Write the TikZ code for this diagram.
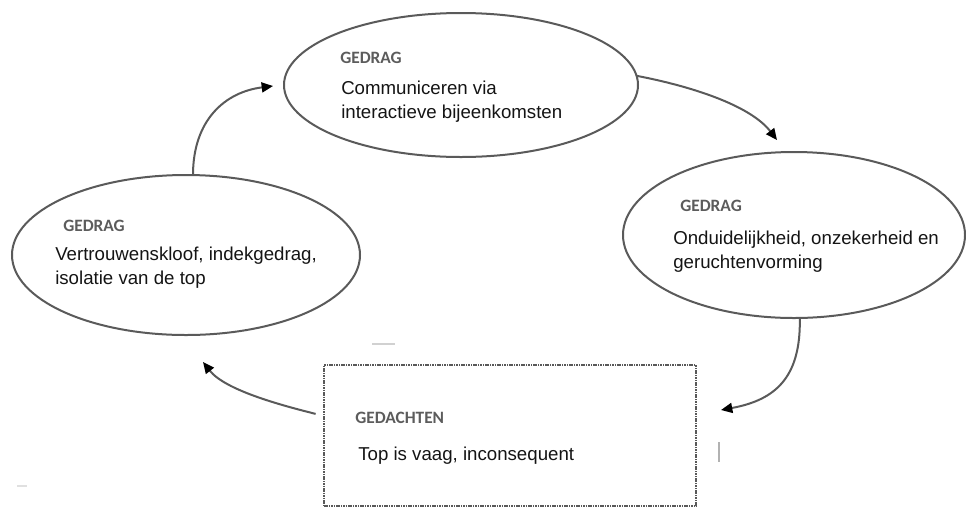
\documentclass[tikz,border=0pt]{standalone}
\usepackage{fontspec}
\setmainfont{Liberation Sans}
\newfontfamily\headfont{Carlito}
\usetikzlibrary{arrows.meta,shapes.geometric}

\definecolor{outline}{HTML}{5A5A5A}
\definecolor{headgray}{HTML}{5C5C5C}
\definecolor{bodyink}{HTML}{141414}

\tikzset{
  phase/.style={ellipse, draw=outline, line width=1.5pt, inner sep=0pt, outer sep=0pt},
  thoughtbox/.style={rectangle, draw=black!65, line width=1.5pt,
    dash pattern=on 1.2pt off 0.6pt, inner sep=0pt, outer sep=0pt},
  heading/.style={anchor=base west, inner sep=0pt, text=headgray,
    font=\headfont\bfseries\fontsize{13}{15}\selectfont},
  body/.style={anchor=base west, inner sep=0pt, text=bodyink,
    font=\fontsize{14}{18}\selectfont},
  flow/.style={draw=outline, line width=1.5pt,
    arrows={-{Triangle[length=8.5pt,width=7.5pt,color=black]}}},
  speck/.style={draw=black!18, line width=1pt}
}

\begin{document}
\begin{tikzpicture}[x=0.75pt,y=-0.75pt]
  \useasboundingbox (0,0) rectangle (966,508);

  % the four stages of the cycle
  \node[phase, minimum width=265.5pt, minimum height=108pt] (top) at (461,85) {};
  \node[phase, minimum width=256.5pt, minimum height=124.5pt] (right) at (794,235) {};
  \node[phase, minimum width=261pt, minimum height=120pt] (left) at (186,255) {};
  \node[thoughtbox, minimum width=279pt, minimum height=105.75pt] (thought) at (510,435.5) {};

  % labels
  \node[heading] (topHead) at (340,63) {GEDRAG};
  \node[body] (topText) at (341,94)
    {\begin{tabular}[t]{@{}l@{}}Communiceren via\\interactieve bijeenkomsten\end{tabular}};

  \node[heading] (rightHead) at (680,211) {GEDRAG};
  \node[body] (rightText) at (673,244)
    {\begin{tabular}[t]{@{}l@{}}Onduidelijkheid, onzekerheid en\\geruchtenvorming\end{tabular}};

  \node[heading] (leftHead) at (63,231) {GEDRAG};
  \node[body] (leftText) at (55,260)
    {\begin{tabular}[t]{@{}l@{}}Vertrouwenskloof, indekgedrag,\\isolatie van de top\end{tabular}};

  \node[heading] (thoughtHead) at (355,423) {GEDACHTEN};
  \node[body] (thoughtText) at (358,460) {Top is vaag, inconsequent};

  % arrow tips stop short of the next stage
  \coordinate (tipTop) at (273,86);
  \coordinate (tipRight) at (777,140);
  \coordinate (tipThought) at (721,410);
  \coordinate (tipLeft) at (203,362);

  % the cycle
  \draw[flow] (left.85) .. controls (193,120) and (225,92) .. (tipTop);
  \draw[flow] (top.3) .. controls (690,86) and (750,105) .. (tipRight);
  \draw[flow] (right.-86) .. controls (801,378) and (775,400) .. (tipThought);
  \draw[flow, shorten <=6.5pt] (thought.174) .. controls (280,405) and (225,390) .. (tipLeft);

  % small stray marks
  \coordinate (specA) at (372,344);
  \coordinate (specB) at (395,344);
  \coordinate (specC) at (719,442);
  \coordinate (specD) at (719,462);
  \coordinate (specE) at (17,486);
  \coordinate (specF) at (27,486);
  \draw[speck] (specA) -- (specB);
  \draw[speck, draw=black!30] (specC) -- (specD);
  \draw[speck, draw=black!12] (specE) -- (specF);
\end{tikzpicture}
\end{document}
